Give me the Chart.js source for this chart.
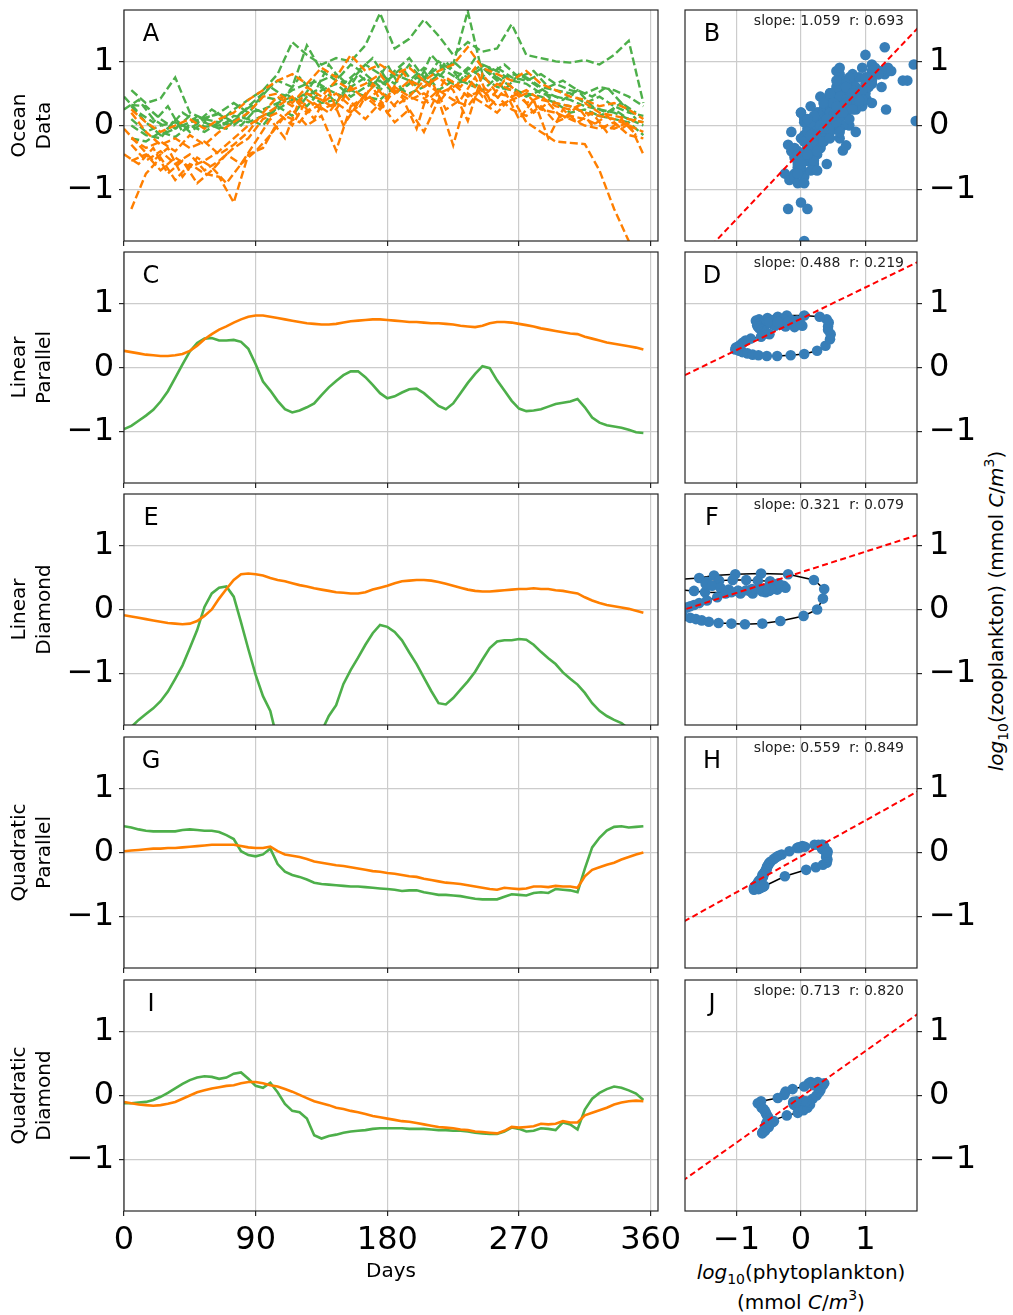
<!DOCTYPE html>
<html><head><meta charset="utf-8">
<script src="https://cdn.jsdelivr.net/npm/chart.js@4.4.1/dist/chart.umd.min.js"></script>
<style>
html,body{margin:0;padding:0;background:#fff;}
body{width:1013px;height:1315px;position:relative;overflow:hidden;font-family:"DejaVu Sans",sans-serif;}
canvas{position:absolute;}
.lab{position:absolute;font-family:"DejaVu Sans",sans-serif;font-size:20px;color:#000;white-space:nowrap;line-height:28px;text-align:center;}
.it{font-style:italic;}
.sb{font-size:14px;position:relative;top:5px;}
.sp{font-size:14px;position:relative;top:-9px;}
</style></head><body>
<div class="lab" id="ylabR" style="left:997px;top:611px;transform:translate(-50%,-50%) rotate(-90deg);"><span class="it">log</span><span class="sb">10</span>(zooplankton) (mmol <span class="it">C</span>/<span class="it">m</span><span class="sp">3</span>)</div>
<div class="lab" id="xlabR" style="left:801px;top:1258px;transform:translateX(-50%);"><span class="it">log</span><span class="sb">10</span>(phytoplankton)<br>(mmol <span class="it">C</span>/<span class="it">m</span><span class="sp">3</span>)</div>
<script>
// ---------- categories / ticks ----------
const days = [0,5,10,15,20,25,30,35,40,45,50,55,60,65,70,75,80,85,90,95,100,105,110,115,120,125,130,135,140,145,150,155,160,165,170,175,180,185,190,195,200,205,210,215,220,225,230,235,240,245,250,255,260,265,270,275,280,285,290,295,300,305,310,315,320,325,330,335,340,345,350,355];
const daysA = [5,15,25,35,45,55,65,75,85,95,105,115,125,135,145,155,165,175,185,195,205,215,225,235,245,255,265,275,285,295,305,315,325,335,345,355];
const daysA2 = [0,10,20,30,40,50,60,70,80,90,100,110,120,130,140,150,160,170,180,190,200,210,220,230,240,250,260,270,280,290,300,310,320,330,340,350];
const dayTicks = [0,90,180,270,360];
const valueTicks = [-1,0,1];
const rowLabels = [['Ocean','Data'],['Linear','Parallel'],['Linear','Diamond'],['Quadratic','Parallel'],['Quadratic','Diamond']];
const leftLetters = ['A','C','E','G','I'];
const rightLetters = ['B','D','F','H','J'];
const slopes = [1.059,0.488,0.321,0.559,0.713];
const rValues = [0.693,0.219,0.079,0.849,0.820];
const intercepts = [-0.40,0.76,0.58,-0.06,-0.02];

// ---------- Ocean data (A): phytoplankton (green) / zooplankton (orange) ----------
const oceanPhyto1 = [0.55,0.35,0.42,0.75,0.20,0.10,0.05,0.25,0.40,0.55,0.80,1.30,1.10,0.95,1.05,1.00,1.25,1.75,1.20,1.35,1.65,1.40,1.10,1.30,1.15,1.20,1.58,1.10,1.05,1.00,0.98,1.02,0.95,1.10,1.32,0.35];
const oceanPhyto2 = [0.32,0.30,0.10,-0.05,0.05,0.12,0.18,0.05,0.30,0.50,0.70,0.60,1.25,0.85,0.70,0.95,0.80,0.60,0.85,1.05,0.75,0.90,0.95,1.78,0.80,0.90,0.75,0.70,0.80,0.65,0.55,0.50,0.60,0.55,0.45,0.30];
const oceanPhyto3 = [0.10,-0.10,0.00,0.05,-0.05,0.10,0.20,0.35,0.20,0.45,0.40,0.55,0.65,0.70,0.80,0.60,0.75,0.55,0.80,0.70,0.90,0.75,1.00,0.80,0.95,0.85,0.70,0.65,0.50,0.45,0.40,0.30,0.25,0.20,0.10,0.00];
const oceanPhyto4 = [-0.20,-0.25,-0.10,-0.18,0.00,-0.10,0.05,0.00,0.20,0.25,0.35,0.45,0.30,0.55,0.65,0.45,0.60,0.70,0.50,0.65,0.85,0.55,0.70,0.90,0.75,0.60,0.55,0.50,0.45,0.35,0.20,0.25,0.15,0.10,0.05,-0.15];
const oceanPhyto5 = [0.30,0.05,-0.15,-0.05,0.15,-0.02,0.00,0.10,0.05,0.15,0.25,0.40,0.50,0.35,0.40,0.55,0.45,0.40,0.60,0.50,0.60,0.80,0.65,0.70,0.55,0.75,0.60,0.45,0.55,0.35,0.30,0.20,0.15,0.25,0.10,0.05];
const oceanPhyto6 = [0.00,-0.15,-0.20,0.10,-0.10,0.05,-0.05,0.15,0.10,0.00,0.30,0.15,0.45,0.60,0.35,0.70,0.95,0.80,0.65,0.95,0.70,1.00,0.85,0.75,0.90,0.70,0.80,0.75,0.60,0.55,0.50,0.35,0.45,0.30,0.20,0.15];
const oceanPhyto7 = [0.45,0.20,0.05,0.30,-0.10,0.15,0.00,-0.05,0.20,0.35,0.60,0.45,0.75,0.50,0.95,0.65,0.85,1.05,0.70,0.90,0.60,1.10,0.85,0.70,1.05,0.80,0.95,0.75,0.85,0.60,0.70,0.55,0.45,0.60,0.35,0.20];
const oceanPhyto8 = [0.25,0.40,0.10,-0.05,0.20,0.05,0.25,0.10,0.00,0.25,0.15,0.50,0.35,0.70,0.55,0.45,0.80,0.60,0.95,0.55,0.75,0.65,1.00,0.70,0.60,0.90,0.55,0.80,0.65,0.50,0.40,0.55,0.30,0.20,0.35,0.10];
const oceanZoo1 = [0.25,0.05,-0.10,0.00,0.10,-0.05,0.10,0.20,0.40,0.55,0.70,0.80,0.65,0.90,0.75,1.10,0.85,0.95,0.80,0.90,0.70,0.85,0.95,1.22,0.90,0.80,0.70,0.85,0.65,0.55,0.45,0.40,0.30,0.35,0.25,0.10];
const oceanZoo2 = [-0.20,-0.35,-0.25,-0.40,-0.15,-0.30,-0.10,0.05,0.20,0.45,0.50,0.35,0.60,0.45,0.70,0.55,0.65,0.80,0.50,0.70,0.60,0.75,0.55,0.07,0.80,0.50,0.45,0.55,0.40,0.35,0.30,0.20,0.15,0.10,0.00,-0.10];
const oceanZoo3 = [-0.55,-0.45,-0.70,-0.50,-0.65,-0.55,-0.40,-0.20,0.00,0.15,0.30,0.45,0.20,0.35,0.50,0.30,0.45,0.25,0.55,0.40,0.50,0.35,0.65,0.45,0.55,0.30,0.40,0.50,0.25,0.20,0.10,0.00,-0.05,0.05,-0.15,-0.20];
const oceanZoo4 = [-1.30,-0.75,-0.50,-0.85,-0.60,-0.75,-0.80,-1.20,-0.45,-0.35,0.05,0.25,0.00,0.15,-0.39,0.30,0.10,0.35,0.05,0.25,-0.10,0.40,-0.31,0.50,0.35,0.20,0.45,0.05,-0.10,-0.25,-0.27,-0.29,-0.70,-1.30,-1.80,-2.40];
const oceanZoo5 = [-0.30,-0.55,-0.40,-0.60,-0.45,-0.70,-0.55,-0.35,-0.20,0.10,0.20,0.00,0.40,0.25,0.35,0.20,0.50,0.30,0.60,0.45,0.35,0.55,0.40,0.30,0.60,0.45,0.25,0.15,0.30,0.05,0.15,0.10,0.00,-0.05,0.05,-0.45];
const oceanZoo6 = [0.20,-0.10,-0.30,-0.20,-0.35,-0.25,-0.45,-0.30,-0.10,0.20,0.45,0.30,0.50,0.40,0.25,0.60,0.40,0.55,0.30,0.45,0.70,0.50,0.60,0.75,0.45,0.65,0.55,0.35,0.45,0.30,0.25,0.35,0.20,0.15,0.10,0.05];
const oceanZoo7 = [-0.05,-0.30,-0.55,-0.35,-0.80,-0.50,-0.65,-0.90,-0.60,-0.25,0.10,-0.20,0.40,0.10,0.55,0.00,0.35,0.60,0.20,0.45,-0.05,0.70,0.25,0.40,0.75,0.30,0.55,0.10,0.40,-0.20,0.25,0.05,0.20,-0.10,0.10,-0.15];
const oceanZoo8 = [-0.45,-0.60,-0.35,-0.75,-0.55,-0.90,-0.70,-0.45,-0.60,-0.40,-0.15,0.15,0.05,0.35,0.20,0.50,0.25,0.65,0.40,0.85,0.55,0.30,0.75,0.60,0.90,0.40,0.70,0.50,0.20,0.35,0.10,0.30,0.00,0.15,-0.05,0.10];

// ---------- Linear Parallel (C) ----------
const linParPhyto = [-0.96,-0.91,-0.83,-0.75,-0.66,-0.53,-0.37,-0.16,0.05,0.25,
 0.38,0.45,0.46,0.42,0.42,0.43,0.40,0.29,0.05,-0.22,
 -0.36,-0.52,-0.65,-0.70,-0.67,-0.62,-0.56,-0.43,-0.31,-0.21,
 -0.12,-0.06,-0.06,-0.15,-0.27,-0.40,-0.48,-0.45,-0.39,-0.34,
 -0.33,-0.40,-0.50,-0.60,-0.65,-0.56,-0.40,-0.24,-0.10,0.02,
 -0.01,-0.20,-0.36,-0.52,-0.64,-0.68,-0.67,-0.65,-0.61,-0.57,
 -0.55,-0.53,-0.49,-0.62,-0.78,-0.86,-0.90,-0.92,-0.94,-0.97,
 -1.01,-1.02];
const linParZoo = [0.26,0.24,0.22,0.20,0.19,0.18,0.18,0.19,0.21,0.26,
 0.34,0.44,0.52,0.59,0.64,0.70,0.75,0.79,0.81,0.81,
 0.79,0.77,0.75,0.73,0.71,0.69,0.68,0.67,0.67,0.68,
 0.70,0.72,0.73,0.74,0.75,0.75,0.74,0.73,0.72,0.71,
 0.71,0.70,0.69,0.69,0.68,0.67,0.65,0.64,0.63,0.65,
 0.69,0.71,0.71,0.70,0.68,0.66,0.64,0.61,0.59,0.57,
 0.55,0.53,0.52,0.48,0.45,0.42,0.39,0.37,0.35,0.33,
 0.31,0.28];

// ---------- Linear Diamond (E) ----------
const linDiaPhyto = [-1.95,-1.83,-1.72,-1.63,-1.54,-1.43,-1.28,-1.08,-0.87,-0.60,
 -0.32,0.04,0.25,0.34,0.36,0.20,-0.20,-0.62,-1.02,-1.35,
 -1.58,-2.05,-2.40,-2.60,-2.60,-2.40,-2.15,-1.90,-1.66,-1.49,
 -1.16,-0.94,-0.75,-0.55,-0.37,-0.24,-0.27,-0.35,-0.48,-0.67,
 -0.85,-1.06,-1.27,-1.46,-1.48,-1.38,-1.25,-1.12,-0.97,-0.78,
 -0.60,-0.50,-0.48,-0.48,-0.46,-0.47,-0.55,-0.66,-0.76,-0.85,
 -0.98,-1.08,-1.17,-1.30,-1.46,-1.58,-1.66,-1.72,-1.77,-1.86,
 -1.95,-2.00];
const linDiaZoo = [-0.09,-0.11,-0.13,-0.15,-0.17,-0.19,-0.21,-0.22,-0.23,-0.22,
 -0.18,-0.10,0.00,0.17,0.32,0.46,0.55,0.56,0.55,0.53,
 0.49,0.46,0.44,0.41,0.38,0.36,0.33,0.31,0.29,0.27,
 0.26,0.25,0.25,0.27,0.31,0.34,0.37,0.41,0.44,0.45,
 0.46,0.46,0.45,0.43,0.40,0.37,0.34,0.31,0.29,0.28,
 0.28,0.29,0.30,0.31,0.32,0.32,0.33,0.32,0.32,0.30,
 0.29,0.27,0.25,0.19,0.14,0.10,0.07,0.05,0.03,0.01,
 -0.02,-0.05];

// ---------- Quadratic Parallel (G) ----------
const quadParPhyto = [0.41,0.39,0.36,0.34,0.33,0.33,0.33,0.33,0.35,0.36,
 0.35,0.34,0.34,0.32,0.27,0.21,0.02,-0.04,-0.06,-0.03,
 0.06,-0.18,-0.30,-0.35,-0.38,-0.42,-0.47,-0.49,-0.50,-0.51,
 -0.52,-0.53,-0.53,-0.54,-0.55,-0.56,-0.57,-0.58,-0.60,-0.59,
 -0.59,-0.62,-0.64,-0.66,-0.66,-0.67,-0.68,-0.70,-0.72,-0.73,
 -0.73,-0.73,-0.69,-0.65,-0.66,-0.67,-0.63,-0.62,-0.63,-0.57,
 -0.58,-0.59,-0.62,-0.25,0.08,0.23,0.34,0.40,0.41,0.39,
 0.40,0.41];
const quadParZoo = [0.02,0.03,0.04,0.05,0.06,0.06,0.07,0.07,0.08,0.09,
 0.10,0.11,0.12,0.12,0.12,0.12,0.10,0.08,0.07,0.07,
 0.09,0.02,-0.03,-0.05,-0.07,-0.10,-0.14,-0.16,-0.18,-0.20,
 -0.21,-0.23,-0.25,-0.27,-0.29,-0.30,-0.32,-0.33,-0.35,-0.37,
 -0.38,-0.41,-0.43,-0.45,-0.47,-0.48,-0.49,-0.51,-0.53,-0.55,
 -0.57,-0.58,-0.55,-0.56,-0.57,-0.56,-0.53,-0.53,-0.54,-0.52,
 -0.53,-0.53,-0.55,-0.37,-0.27,-0.23,-0.19,-0.16,-0.11,-0.07,
 -0.03,0.00];

// ---------- Quadratic Diamond (I) ----------
const quadDiaPhyto = [-0.12,-0.12,-0.11,-0.10,-0.07,-0.02,0.04,0.11,0.18,0.24,
 0.28,0.30,0.29,0.26,0.28,0.34,0.36,0.26,0.15,0.12,
 0.20,0.05,-0.13,-0.24,-0.26,-0.36,-0.62,-0.67,-0.63,-0.61,
 -0.58,-0.56,-0.55,-0.54,-0.52,-0.51,-0.51,-0.51,-0.51,-0.52,
 -0.52,-0.52,-0.53,-0.54,-0.54,-0.55,-0.55,-0.56,-0.58,-0.59,
 -0.60,-0.60,-0.56,-0.50,-0.52,-0.56,-0.55,-0.51,-0.52,-0.54,
 -0.42,-0.45,-0.53,-0.22,-0.05,0.04,0.10,0.14,0.12,0.08,
 0.03,-0.07];
const quadDiaZoo = [-0.10,-0.12,-0.14,-0.15,-0.16,-0.15,-0.13,-0.10,-0.05,0.00,
 0.05,0.08,0.11,0.13,0.15,0.16,0.19,0.21,0.21,0.19,
 0.16,0.14,0.10,0.06,0.01,-0.04,-0.09,-0.12,-0.15,-0.19,
 -0.21,-0.24,-0.26,-0.29,-0.32,-0.34,-0.36,-0.38,-0.40,-0.41,
 -0.43,-0.45,-0.47,-0.49,-0.50,-0.51,-0.53,-0.54,-0.56,-0.57,
 -0.58,-0.59,-0.55,-0.49,-0.50,-0.49,-0.48,-0.44,-0.45,-0.44,
 -0.40,-0.42,-0.42,-0.31,-0.27,-0.23,-0.19,-0.14,-0.11,-0.09,
 -0.08,-0.09];

// ---------- styling ----------
const GREEN = '#4daf4a', ORANGE = '#ff7f00', BLUE = '#377eb8', RED = '#ff0000';
const ROW_TOP = [10,252,494,737,980];
const PLOT_H = 231;
Chart.defaults.font.family = '"DejaVu Sans", sans-serif';
Chart.defaults.color = '#000';

const fmt = v => (v < 0 ? '\u2212' + Math.abs(v) : String(v));
const series = (xs, ys) => xs.map((x, i) => ({x: x, y: ys[i]}));
const noPad = s => { s.paddingTop = 0; s.paddingBottom = 0; s.paddingLeft = 0; s.paddingRight = 0; };

const framePlugin = {
  id: 'frame',
  afterDraw(chart, args, opts) {
    const {ctx, chartArea: a} = chart;
    ctx.save();
    ctx.strokeStyle = '#262626';
    ctx.lineWidth = 1.2;
    ctx.strokeRect(a.left, a.top, a.right - a.left, a.bottom - a.top);
    ctx.fillStyle = '#000';
    ctx.textBaseline = 'alphabetic';
    ctx.textAlign = 'center';
    ctx.font = '24px "DejaVu Sans"';
    ctx.fillText(opts.letter, a.left + 27, a.top + 31);
    if (opts.note) {
      ctx.font = '14px "DejaVu Sans"';
      ctx.textAlign = 'right';
      ctx.fillStyle = '#222';
      ctx.fillText(opts.note, a.right - 13, a.top + 15);
    }
    ctx.restore();
  }
};

const gridOpts = {color: '#cccccc', lineWidth: 1.2, tickColor: '#262626', tickLength: 5, tickWidth: 1.2};

function addCanvas(left, top, w, h) {
  const c = document.createElement('canvas');
  c.width = w; c.height = h;
  c.style.left = left + 'px'; c.style.top = top + 'px';
  c.style.width = w + 'px'; c.style.height = h + 'px';
  document.body.appendChild(c);
  return c;
}

function lineDs(xs, ys, color, dashed) {
  return {data: series(xs, ys), showLine: true, borderColor: color, borderWidth: dashed ? 2.4 : 2.6,
    borderDash: dashed ? [8, 3.5] : [], pointRadius: 0, fill: false, clip: 0, tension: 0};
}

function leftChart(row, datasets) {
  const bottom = row === 4;
  const h = 10 + PLOT_H + (bottom ? 105 : 10);
  const c = addCanvas(0, ROW_TOP[row] - 10, 700, h);
  new Chart(c, {
    type: 'scatter',
    data: {datasets: datasets},
    options: {
      responsive: false, animation: false, devicePixelRatio: 1,
      layout: {padding: {top: 10, left: 0, right: 42, bottom: 0}},
      plugins: {legend: {display: false}, tooltip: {enabled: false}, frame: {letter: leftLetters[row]}},
      scales: {
        x: {type: 'linear', min: 0, max: 365,
          afterBuildTicks: s => { s.ticks = dayTicks.map(v => ({value: v})); },
          afterFit: s => { s.height = bottom ? 105 : 10; noPad(s); },
          grid: gridOpts, border: {display: false},
          ticks: {display: bottom, font: {size: 32}, padding: 5, maxRotation: 0, autoSkip: false, callback: v => fmt(v)},
          title: {display: bottom, text: 'Days', font: {size: 20, lineHeight: 1.2}, padding: {top: 0, bottom: 32}}},
        y: {type: 'linear', position: 'left', min: -1.8, max: 1.8,
          afterBuildTicks: s => { s.ticks = valueTicks.map(v => ({value: v})); },
          afterFit: s => { s.width = 124; noPad(s); },
          grid: gridOpts, border: {display: false},
          ticks: {font: {size: 32}, padding: 5, callback: v => fmt(v)},
          title: {display: true, text: rowLabels[row], font: {size: 20, lineHeight: 1.25}, padding: {top: 7, bottom: 0}}}
      }
    },
    plugins: [framePlugin]
  });
}

function rightChart(row, datasets) {
  const bottom = row === 4;
  const h = 10 + PLOT_H + (bottom ? 105 : 10);
  const c = addCanvas(675, ROW_TOP[row] - 10, 310, h);
  const note = 'slope: ' + slopes[row].toFixed(3) + '  r: ' + rValues[row].toFixed(3);
  new Chart(c, {
    type: 'scatter',
    data: {datasets: datasets},
    options: {
      responsive: false, animation: false, devicePixelRatio: 1,
      layout: {padding: {top: 10, left: 10, right: 0, bottom: 0}},
      plugins: {legend: {display: false}, tooltip: {enabled: false}, frame: {letter: rightLetters[row], note: note}},
      scales: {
        x: {type: 'linear', min: -1.8, max: 1.8,
          afterBuildTicks: s => { s.ticks = valueTicks.map(v => ({value: v})); },
          afterFit: s => { s.height = bottom ? 105 : 10; noPad(s); },
          grid: gridOpts, border: {display: false},
          ticks: {display: bottom, font: {size: 32}, padding: 5, maxRotation: 0, autoSkip: false, callback: v => fmt(v)}},
        y: {type: 'linear', position: 'right', min: -1.8, max: 1.8,
          afterBuildTicks: s => { s.ticks = valueTicks.map(v => ({value: v})); },
          afterFit: s => { s.width = 68; noPad(s); },
          grid: gridOpts, border: {display: false},
          ticks: {font: {size: 32}, padding: 7, callback: v => fmt(v)}}
      }
    },
    plugins: [framePlugin]
  });
}

function regressionDs(row) {
  const xs = [-2.2, 2.2];
  return {data: xs.map(x => ({x: x, y: intercepts[row] + slopes[row] * x})), showLine: true,
    borderColor: RED, borderWidth: 2, borderDash: [6, 3.5], pointRadius: 0, clip: 0};
}
function dotsDs(pts) {
  return {data: pts, showLine: false, pointRadius: 5.3, pointBackgroundColor: BLUE, pointBorderWidth: 0, clip: 0};
}
function loopDs(pts) {
  return {data: pts, showLine: true, borderColor: '#000', borderWidth: 1.5, pointRadius: 0, clip: 0};
}

// ---------- Row A / B ----------
const oceanPhyto = [oceanPhyto1, oceanPhyto2, oceanPhyto3, oceanPhyto4, oceanPhyto5, oceanPhyto6, oceanPhyto7, oceanPhyto8];
const oceanZoo = [oceanZoo1, oceanZoo2, oceanZoo3, oceanZoo4, oceanZoo5, oceanZoo6, oceanZoo7, oceanZoo8];
const oceanDays = [daysA, daysA, daysA, daysA, daysA, daysA, daysA2, daysA2];
const dsA = [];
oceanZoo.forEach((z, k) => dsA.push(lineDs(oceanDays[k], z, ORANGE, true)));
oceanPhyto.forEach((p, k) => dsA.push(lineDs(oceanDays[k], p, GREEN, true)));
leftChart(0, dsA);
let ptsB = [];
oceanPhyto.forEach((p, k) => { ptsB = ptsB.concat(series(p, oceanZoo[k])); });
rightChart(0, [regressionDs(0), dotsDs(ptsB)]);

// ---------- Model rows ----------
const modelPhyto = [null, linParPhyto, linDiaPhyto, quadParPhyto, quadDiaPhyto];
const modelZoo = [null, linParZoo, linDiaZoo, quadParZoo, quadDiaZoo];
for (let r = 1; r < 5; r++) {
  leftChart(r, [lineDs(days, modelZoo[r], ORANGE, false), lineDs(days, modelPhyto[r], GREEN, false)]);
  const pts = series(modelPhyto[r], modelZoo[r]);
  rightChart(r, [regressionDs(r), dotsDs(pts), loopDs(pts)]);
}
</script>
</body></html>
